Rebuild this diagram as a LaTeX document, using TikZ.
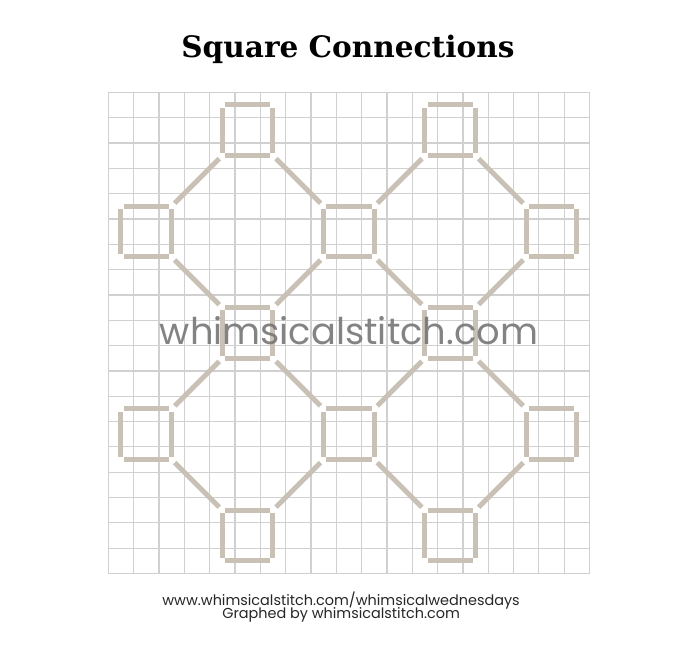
\documentclass[tikz,border=0pt]{standalone}
\usepackage{fontspec}
\usepackage{tikz}
\usetikzlibrary{positioning}
\newfontfamily\titlefont{DejaVu Serif}
\newfontfamily\markfont{Poppins}
\definecolor{floss}{RGB}{201,193,181}
\definecolor{gridc}{RGB}{208,208,208}
\definecolor{markc}{RGB}{118,118,118}

\begin{document}
\begin{tikzpicture}[x=0.5cm, y=-0.5cm,
  patch/.style={minimum size=1cm, inner sep=0pt, outer sep=0pt},
  thread/.style={line width=2.8pt, floss},
  link/.style={thread, shorten <=2.4pt, shorten >=2.4pt}]

  \newcommand\Gap{1.5pt};

  \useasboundingbox (-4.276,-3.644) rectangle (23.36,22.02);

  %% grid
  \foreach \i in {0,...,19}{
    \draw[gridc, line width=0.65pt] (\i,0) -- (\i,19);
    \draw[gridc, line width=0.65pt] (0,\i) -- (19,\i);
  }

  %% squares, one stitch per side
  \foreach \n/\c/\r in {a/5.5/1.5, b/13.5/1.5, c/1.5/5.5, d/9.5/5.5, e/17.5/5.5,
                        f/5.5/9.5, g/13.5/9.5, h/1.5/13.5, i/9.5/13.5, j/17.5/13.5,
                        k/5.5/17.5, l/13.5/17.5}{
    \node[patch] (\n) at (\c,\r) {};
    \draw[thread] ([xshift=\Gap]\n.north west) -- ([xshift=-\Gap]\n.north east); %% top
    \draw[thread] ([xshift=\Gap]\n.south west) -- ([xshift=-\Gap]\n.south east); %% bottom
    \draw[thread] ([yshift=-\Gap]\n.north west) -- ([yshift=\Gap]\n.south west); %% left
    \draw[thread] ([yshift=-\Gap]\n.north east) -- ([yshift=\Gap]\n.south east); %% right
  }

  %% diagonal connections
  \foreach \p/\q in {a.south west/c.north east, a.south east/d.north west,
                     b.south west/d.north east, b.south east/e.north west,
                     c.south east/f.north west, d.south west/f.north east,
                     d.south east/g.north west, e.south west/g.north east,
                     f.south west/h.north east, f.south east/i.north west,
                     g.south west/i.north east, g.south east/j.north west,
                     h.south east/k.north west, i.south west/k.north east,
                     i.south east/l.north west, j.south west/l.north east}
    \draw[link] (\p) -- (\q);

  \node[anchor=base, font=\titlefont\bfseries\fontsize{16.6}{19}\selectfont] (title)
    at (9.46,-1.36) {Square Connections};
  \node[anchor=base, text=markc, text opacity=0.9,
    font=\markfont\fontsize{20.7}{24}\selectfont] (mark) at (9.5,9.97) {whimsicalstitch.com};
  \node[anchor=base, text=black!85, font=\markfont\fontsize{8.1}{9}\selectfont] (url)
    at (9.19,20.25) {www.whimsicalstitch.com/whimsicalwednesdays};
  \node[anchor=base, text=black!85, font=\markfont\fontsize{8.1}{9}\selectfont] (credit)
    at (9.19,20.77) {Graphed by whimsicalstitch.com};
\end{tikzpicture}
\end{document}
